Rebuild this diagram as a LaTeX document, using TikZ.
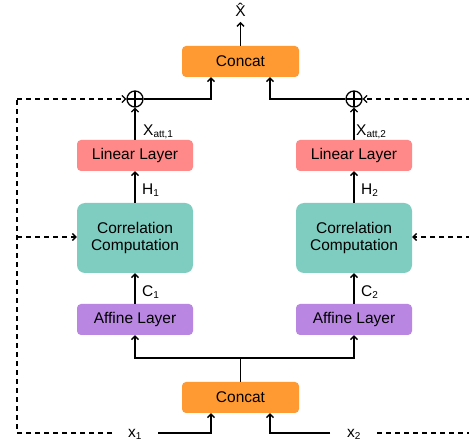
\documentclass[tikz,border=0pt]{standalone}
\usepackage{fontspec}
\setmainfont{Liberation Sans}
\usetikzlibrary{arrows.meta}
\definecolor{corange}{RGB}{255,154,51}
\definecolor{cred}{RGB}{255,136,136}
\definecolor{cteal}{RGB}{126,205,192}
\definecolor{cpurple}{RGB}{185,135,226}
\tikzset{
  box/.style={rounded corners=4pt, minimum width=116pt, minimum height=31pt, inner sep=0pt, align=center, font=\fontsize{15.5}{18}\selectfont},
  arr/.style={line width=1.3pt, -{Straight Barb[length=3.5pt,width=7pt]}},
  plain/.style={line width=1.3pt},
  darr/.style={line width=1.3pt, dash pattern=on 5pt off 4pt, -{Straight Barb[length=3.5pt,width=7pt]}},
  dline/.style={line width=1.3pt, dash pattern=on 5pt off 4pt},
  oplus/.style={circle, draw, line width=1.3pt, minimum size=16pt, inner sep=0pt,
    path picture={\draw[line width=1.3pt] (path picture bounding box.north) -- (path picture bounding box.south)
      (path picture bounding box.west) -- (path picture bounding box.east);}},
  lbl/.style={font=\fontsize{15.5}{18}\selectfont, inner sep=0pt}
}
\begin{document}
\begin{tikzpicture}[x=1pt,y=-1pt]
\clip (0,0) rectangle (469,446);
\fill[white] (0,0) rectangle (469,446);
% boxes
\node[box, fill=corange, minimum width=117pt] (concatT) at (240.5,61.5) {Concat};
\node[box, fill=corange, minimum width=117pt] (concatB) at (240.5,397.5) {Concat};
\node[box, fill=cred] (linL) at (135,155.5) {Linear Layer};
\node[box, fill=cred] (linR) at (354,155.5) {Linear Layer};
\node[box, fill=cteal, minimum height=70pt, rounded corners=8pt] (corrL) at (135,238) {Correlation\\[-1pt]Computation};
\node[box, fill=cteal, minimum height=70pt, rounded corners=8pt] (corrR) at (354,238) {Correlation\\[-1pt]Computation};
\node[box, fill=cpurple] (affL) at (135,319.5) {Affine Layer};
\node[box, fill=cpurple] (affR) at (354,319.5) {Affine Layer};
\node[oplus] (opL) at (135,99) {};
\node[oplus] (opR) at (354,99) {};
% labels
\node[lbl] (xhat) at (240.5,10) {X̂};
\coordinate (top) at (240.5,22);
\node[lbl, anchor=west] (xattL) at (143,132) {X\textsubscript{\fontsize{10}{10}\selectfont att,1}};
\node[lbl, anchor=west] (xattR) at (356,132) {X\textsubscript{\fontsize{10}{10}\selectfont att,2}};
\node[lbl, anchor=west] (h1) at (142,190) {H\textsubscript{\fontsize{10}{10}\selectfont 1}};
\node[lbl, anchor=west] (h2) at (361,190) {H\textsubscript{\fontsize{10}{10}\selectfont 2}};
\node[lbl, anchor=west] (c1) at (142,292) {C\textsubscript{\fontsize{10}{10}\selectfont 1}};
\node[lbl, anchor=west] (c2) at (361,292) {C\textsubscript{\fontsize{10}{10}\selectfont 2}};
\node[lbl] (x1) at (135,434) {x\textsubscript{\fontsize{10}{10}\selectfont 1}};
\node[lbl] (x2) at (354,434) {x\textsubscript{\fontsize{10}{10}\selectfont 2}};
% connectors
\draw[arr] (concatT.north) -- (top);
\draw[arr] (opL.east) -| ([xshift=-29.5pt]concatT.south);
\draw[arr] (opR.west) -| ([xshift=29.5pt]concatT.south);
\draw[arr] (linL.north) -- (opL.south);
\draw[arr] (linR.north) -- (opR.south);
\draw[arr] (corrL.north) -- (linL.south);
\draw[arr] (corrR.north) -- (linR.south);
\draw[arr] (affL.north) -- (corrL.south);
\draw[arr] (affR.north) -- (corrR.south);
\coordinate (sp) at (240.5,358);
\draw[plain] (concatB.north) -- (sp);
\draw[arr] (sp) -| (affL.south);
\draw[arr] (sp) -| (affR.south);
\coordinate (inL) at (158,433);
\coordinate (inR) at (330,433);
\draw[arr] (inL) -| ([xshift=-29.5pt]concatB.south);
\draw[arr] (inR) -| ([xshift=29.5pt]concatB.south);
% dashed
\coordinate (dL) at (112,433);
\coordinate (dR) at (377,433);
\coordinate (cornerL) at (17,99);
\coordinate (cornerR) at (480,99);
\coordinate (midL) at (17,237);
\coordinate (midR) at (480,237);
\draw[dline] (dL) -| (cornerL);
\draw[darr] (cornerL) -- (opL.west);
\draw[darr] (midL) -- (corrL.west |- midL);
\draw[dline] (dR) -| (cornerR);
\draw[darr] (cornerR) -- (opR.east);
\draw[darr] (midR) -- (corrR.east |- midR);
\end{tikzpicture}
\end{document}
